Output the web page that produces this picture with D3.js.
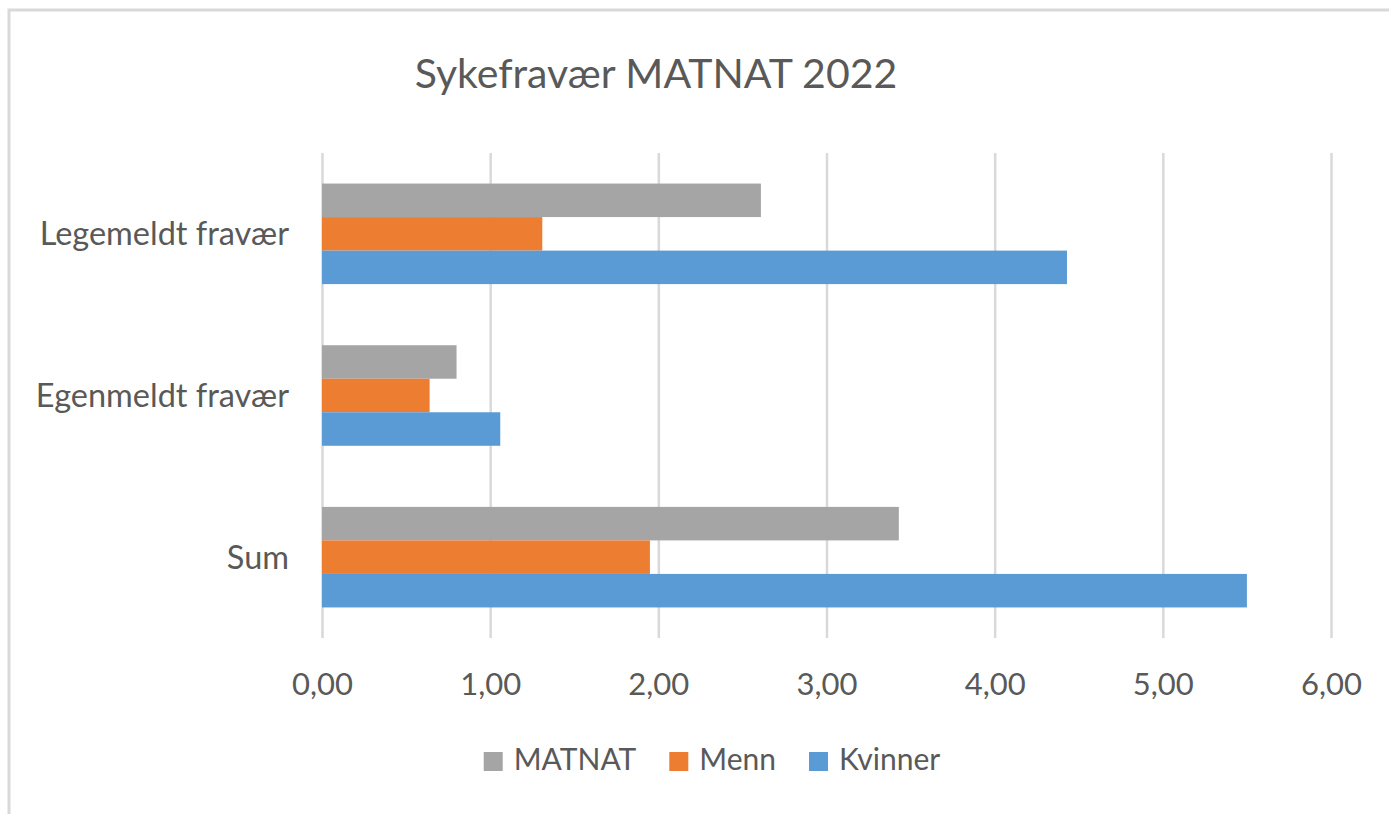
<!DOCTYPE html>
<html>
<head>
<meta charset="utf-8">
<script src="https://cdn.jsdelivr.net/npm/d3@7"></script>
<style>
  html, body { margin: 0; padding: 0; background: #fff; }
  svg { display: block; font-family: Lato, "Open Sans", sans-serif; }
</style>
</head>
<body>
<svg id="chart" width="1389" height="814"></svg>
<script>
const categories = ["Legemeldt fravær", "Egenmeldt fravær", "Sum"];
const seriesNames = ["MATNAT", "Menn", "Kvinner"];
const seriesColors = ["#a5a5a5", "#ed7d31", "#5b9bd5"];
const matnat = [2.61, 0.80, 3.43];
const menn = [1.31, 0.64, 1.95];
const kvinner = [4.43, 1.06, 5.50];
const xTicks = [0, 1, 2, 3, 4, 5, 6];

const seriesValues = [matnat, menn, kvinner];
const rows = categories.map(function(c, i) {
	return { category: c, values: seriesNames.map(function(s, j) { return { name: s, value: seriesValues[j][i] }; }) };
});

const svg = d3.select("#chart");
const textColor = "#595959";

// frame
svg.append("rect")
	.attr("x", 9).attr("y", 10)
	.attr("width", 1400).attr("height", 820)
	.attr("fill", "none")
	.attr("stroke", "#d9d9d9")
	.attr("stroke-width", 3);

const plot = { left: 322, right: 1331, top: 153, bottom: 638 };

const x = d3.scaleLinear().domain([0, 6]).range([plot.left, plot.right]);
const y = d3.scaleBand().domain(categories).range([plot.top, plot.bottom])
	.paddingInner(0.378).paddingOuter(0.189);
const ySub = d3.scaleBand().domain(seriesNames).range([0, y.bandwidth()]);
const color = d3.scaleOrdinal().domain(seriesNames).range(seriesColors);

// gridlines
svg.append("g")
	.attr("transform", "translate(0," + plot.bottom + ")")
	.call(d3.axisBottom(x).tickValues(xTicks).tickSize(-(plot.bottom - plot.top)).tickFormat(""))
	.call(function(g) {
		g.select(".domain").remove();
		g.selectAll("line").attr("stroke", "#d9d9d9").attr("stroke-width", 2.5);
	});

// bars
svg.append("g").selectAll("g")
	.data(rows)
	.join("g")
	.attr("transform", function(d) { return "translate(0," + y(d.category) + ")"; })
	.selectAll("rect")
	.data(function(d) { return d.values; })
	.join("rect")
	.attr("x", x(0))
	.attr("y", function(d) { return ySub(d.name); })
	.attr("width", function(d) { return x(d.value) - x(0); })
	.attr("height", ySub.bandwidth())
	.attr("fill", function(d) { return color(d.name); });

// x tick labels
svg.append("g")
	.attr("transform", "translate(0,695)")
	.call(d3.axisBottom(x).tickValues(xTicks).tickSize(0).tickPadding(0)
		.tickFormat(function(d) { return d3.format(".2f")(d).replace(".", ","); }))
	.call(function(g) {
		g.select(".domain").remove();
		g.selectAll("text")
			.attr("dy", 0)
			.attr("fill", textColor)
			.style("font-size", "31px")
			.style("font-family", "Lato, sans-serif");
	});

// category labels
svg.append("g")
	.attr("transform", "translate(289,0)")
	.call(d3.axisLeft(y).tickSize(0).tickPadding(0))
	.call(function(g) {
		g.select(".domain").remove();
		g.selectAll("text")
			.attr("dy", "0.35em")
			.attr("fill", textColor)
			.style("font-size", "32.5px")
			.style("font-family", "Lato, sans-serif");
	});

// title
svg.append("text")
	.attr("x", 656).attr("y", 88)
	.attr("text-anchor", "middle")
	.attr("fill", textColor)
	.style("font-size", "41px")
	.text("Sykefravær MATNAT 2022");

// legend
const legend = svg.append("g");
const items = legend.selectAll("g")
	.data(seriesNames)
	.join("g");
items.append("rect")
	.attr("y", 752).attr("width", 19).attr("height", 19)
	.attr("fill", function(d) { return color(d); });
items.append("text")
	.attr("x", 30).attr("y", 770)
	.attr("fill", textColor)
	.style("font-size", "30px")
	.text(function(d) { return d; });
let offset = 0;
items.each(function() {
	const w = d3.select(this).select("text").node().getComputedTextLength();
	d3.select(this).attr("transform", "translate(" + offset + ",0)");
	offset += 30 + w + 33;
});
const legendWidth = offset - 33;
legend.attr("transform", "translate(" + (712 - legendWidth / 2) + ",0)");
</script>
</body>
</html>
